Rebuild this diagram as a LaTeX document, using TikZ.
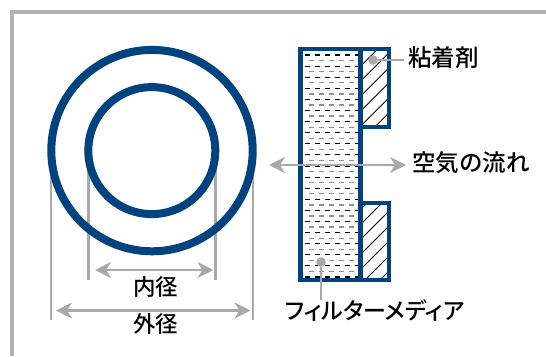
\documentclass[tikz,border=0pt]{standalone}
\usepackage{fontspec}
\setmainfont{Noto Sans CJK JP Medium}
\newfontfamily\paltfont[RawFeature=+palt]{Noto Sans CJK JP Medium}
\usetikzlibrary{arrows.meta}
\definecolor{navy}{HTML}{00437F}
\definecolor{greyline}{HTML}{A9A9A9}
\definecolor{frameg}{HTML}{B3B3B3}
\tikzset{
  ring/.style={draw=navy,line width=8pt},
  wall/.style={draw=navy,line width=4.8pt,line join=miter},
  extline/.style={draw=greyline,line width=2.2pt},
  dim/.style={draw=greyline,line width=2.6pt,{Stealth[length=16pt,width=16pt,inset=5pt]}-{Stealth[length=16pt,width=16pt,inset=5pt]}},
  leader/.style={draw=greyline,line width=2.4pt},
  dot/.style={circle,fill=greyline,inner sep=0pt,minimum size=9.5pt},
  lbl/.style={text=black,inner sep=0pt},
  big/.style={lbl,font=\fontsize{23.5}{23.5}\selectfont},
  mid/.style={lbl,font=\fontsize{22.5}{22.5}\selectfont},
  small/.style={lbl,font=\paltfont\fontsize{23}{23}\selectfont},
  hatchline/.style={draw=black,line width=.8pt},
}
\begin{document}
\begin{tikzpicture}[x=1pt,y=-1pt]
\useasboundingbox (0,0) rectangle (546,356);
\fill[white] (0,0) rectangle (546,356);
% frame
\draw[frameg,line width=4pt] (12,356) -- (12,12) -- (546,12);
% extension lines
\coordinate (o1t) at (51,155); \coordinate (o1b) at (51,320);
\coordinate (o2t) at (253,155); \coordinate (o2b) at (253,320);
\coordinate (i1t) at (88.5,155); \coordinate (i1b) at (88.5,280);
\coordinate (i2t) at (215.5,155); \coordinate (i2b) at (215.5,280);
\draw[extline] (o1t) -- (o1b);
\draw[extline] (o2t) -- (o2b);
\draw[extline] (i1t) -- (i1b);
\draw[extline] (i2t) -- (i2b);
% rings
\draw[ring] (152,150.6) circle[radius=100.7];
\draw[ring] (151.8,150.6) circle[radius=63.5];
\coordinate (ia) at (95,270); \coordinate (ib) at (213.5,270);
\coordinate (oa) at (56,310.5); \coordinate (ob) at (250.5,310.5);
\draw[dim] (ia) -- (ib);
\draw[dim] (oa) -- (ob);
\node[mid] (inner) at (155.5,287) {内径};
\node[mid] (outer) at (155.5,324) {外径};
% filter media dashes
\begin{scope}
\clip (300.5,49) rectangle (360.5,280);
\foreach \k in {0,...,40}{
  \pgfmathsetmacro{\yy}{55+5.55*\k}
  \pgfmathparse{int(mod(\k,2))}
  \ifnum\pgfmathresult=0
    \draw[black,line width=1.1pt,dash pattern=on 5pt off 5pt] (305,\yy) -- (358,\yy);
  \else
    \draw[greyline!85!black,line width=1.3pt,dash pattern=on 5pt off 5pt] (309,\yy) -- (358,\yy);
  \fi
}
\end{scope}
% adhesive hatching
\begin{scope}
\clip (360.5,49) rectangle (389,127);
\foreach \s in {426.7,441.7,...,520}{
  \draw[hatchline] (340,\s-340) -- (400,\s-400);
}
\end{scope}
\begin{scope}
\clip (360.5,203) rectangle (389,280);
\foreach \s in {570,585,...,680}{
  \draw[hatchline] (340,\s-340) -- (400,\s-400);
}
\end{scope}
% filter outline
\draw[wall] (300.5,49) -- (389,49) -- (389,127) -- (360.5,127) -- (360.5,203) -- (389,203) -- (389,280) -- (300.5,280) -- cycle;
\draw[wall] (360.5,49) -- (360.5,127);
\draw[wall] (360.5,203) -- (360.5,280);
% airflow
\coordinate (fa) at (269,165); \coordinate (fb) at (406,165);
\draw[dim] (fa) -- (fb);
\node[big,anchor=west] (air) at (412,163) {空気の流れ};
% leaders
\node[dot] (d1) at (373,60) {};
\node[big,anchor=west] (glue) at (408,58) {粘着剤};
\draw[leader] (d1) -- (404,60);
\node[dot] (d2) at (321,262) {};
\node[small,anchor=west] (media) at (285,311) {フィルターメディア};
\draw[leader] (d2) -- (321,300);
\end{tikzpicture}
\end{document}
